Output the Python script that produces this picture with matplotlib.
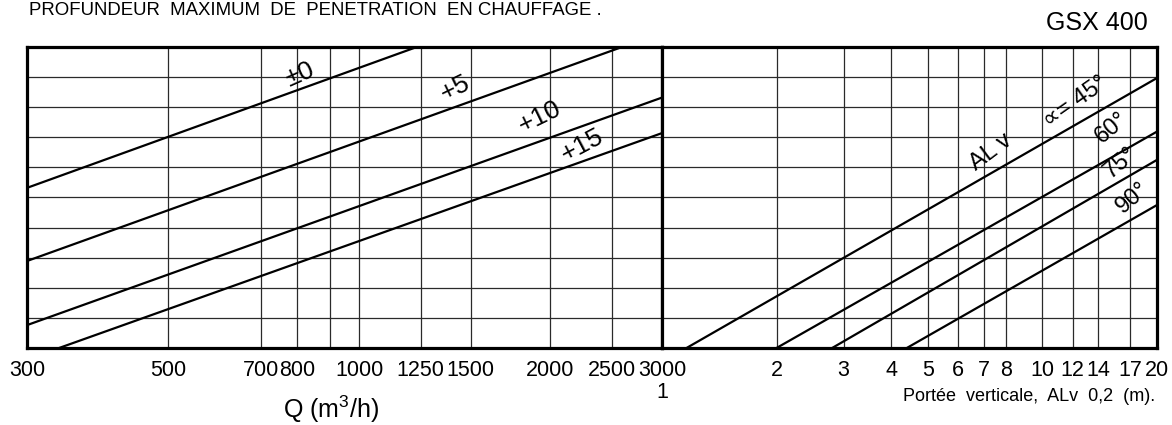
import matplotlib
matplotlib.use("Agg")
import matplotlib.pyplot as plt
from matplotlib.ticker import FixedLocator, FixedFormatter, NullLocator

plt.rcParams['font.family'] = ['Liberation Sans', 'DejaVu Sans']
plt.rcParams['mathtext.fontset'] = 'custom'
plt.rcParams['mathtext.rm'] = 'Liberation Sans'
plt.rcParams['mathtext.it'] = 'Liberation Sans'

# left panel: air flow Q (m3/h) vs depth, one line per temperature difference
q_ticks = [300, 500, 700, 800, 900, 1000, 1250, 1500, 2000, 2500, 3000]
q_labels = ['300', '500', '700', '800', '', '1000', '1250', '1500', '2000', '2500', '3000']

dt_names = ['±0', '+5', '+10', '+15']
dt_q = [[300, 1233], [300, 2595], [300, 3000], [337, 3000]]
dt_y = [[5.32, 10.0], [2.89, 10.0], [0.76, 8.32], [0.0, 7.14]]
dt_label_pos = [(807, 9.07), (1416, 8.64), (1929, 7.67), (2247, 6.74)]
dt_label_rot = [24, 26, 26, 28]

# right panel: vertical throw ALv 0,2 (m), one line per blade angle
v_ticks = [2, 3, 4, 5, 6, 7, 8, 10, 12, 14, 17, 20]
v_labels = ['2', '3', '4', '5', '6', '7', '8', '10', '12', '14', '17', '20']

ang_names = ['∝= 45°', '60°', '75°', '90°']
ang_v = [[1.16, 20], [2.0, 20], [2.8, 20], [4.4, 20]]
ang_y = [[0.0, 8.97], [0.0, 7.19], [0.0, 6.25], [0.0, 4.75]]
ang_label_pos = [(12.2, 8.17), (15.2, 7.31), (16.0, 6.15), (17.3, 4.98)]
ang_label_rot = [35, 40, 40, 40]

y_grid = [1, 2, 3, 4, 5, 6, 7, 8, 9]

fig = plt.figure(figsize=(11.72, 4.25), dpi=100)
ax1 = fig.add_axes([0.02304, 0.18118, 0.54181, 0.70824])
ax2 = fig.add_axes([0.56485, 0.18118, 0.42235, 0.70824])


def style_axis(ax, ticks, labels, lo, hi):
    ax.set_xscale('log')
    ax.set_xlim(lo, hi)
    ax.set_ylim(0, 10)
    ax.xaxis.set_major_locator(FixedLocator(ticks))
    ax.xaxis.set_major_formatter(FixedFormatter(labels))
    ax.xaxis.set_minor_locator(NullLocator())
    ax.yaxis.set_major_locator(FixedLocator(y_grid))
    ax.set_yticklabels([])
    ax.tick_params(axis='both', length=0, labelsize=15.5, pad=9)
    ax.grid(True, color='#2a2a2a', linewidth=0.9)
    for s in ax.spines.values():
        s.set_linewidth(2.3)
        s.set_color('black')


style_axis(ax1, q_ticks, q_labels, 300, 3000)
style_axis(ax2, v_ticks, v_labels, 1, 20)

for name, xs, ys, pos, rot in zip(dt_names, dt_q, dt_y, dt_label_pos, dt_label_rot):
    ax1.plot(xs, ys, color='black', linewidth=1.6, solid_capstyle='butt')
    ax1.text(pos[0], pos[1], name, fontsize=19, rotation=rot,
             ha='center', va='center', rotation_mode='anchor')

for name, xs, ys, pos, rot in zip(ang_names, ang_v, ang_y, ang_label_pos, ang_label_rot):
    ax2.plot(xs, ys, color='black', linewidth=1.6, solid_capstyle='butt')
    ax2.text(pos[0], pos[1], name, fontsize=17, rotation=rot,
             ha='center', va='center', rotation_mode='anchor')

ax2.text(7.3, 6.5, 'AL v', fontsize=17, rotation=37,
         ha='center', va='center', rotation_mode='anchor')

# "1" sits under the 3000 label at the shared edge
ax2.text(1, -0.147, '1', transform=ax2.get_xaxis_transform(),
         fontsize=15.5, ha='center', va='center')

fig.text(0.0247, 0.9647, 'PROFUNDEUR  MAXIMUM  DE  PENETRATION  EN CHAUFFAGE .',
         fontsize=13.4, ha='left', va='baseline')
fig.text(0.9795, 0.929, 'GSX 400', fontsize=18, ha='right', va='baseline')
fig.text(0.2824, 0.038, 'Q (m$^3$/h)', fontsize=18, ha='center', va='center')
fig.text(0.9855, 0.068, 'Portée  verticale,  ALv  0,2  (m).', fontsize=13,
         ha='right', va='center')

fig.savefig('out.png', dpi=100)
